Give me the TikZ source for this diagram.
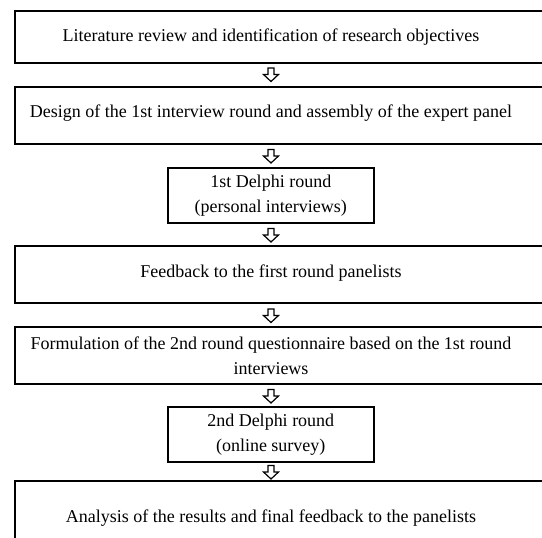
\documentclass[tikz,border=0pt]{standalone}
\usepackage{fontspec}
\setmainfont{Liberation Serif}
\usetikzlibrary{calc}

\tikzset{
  stage/.style={draw, line width=1.5pt, anchor=north west, inner sep=0pt},
  wide/.style={stage, minimum width=560pt},
  narrow/.style={stage, minimum width=206pt},
  txt/.style={font=\fontsize{18}{25}\selectfont, align=center, inner sep=0pt},
  downarr/.pic={\draw[line width=1.2pt, line join=miter]
    (-3,0) -- (3,0) -- (3,6.5) -- (7.5,6.5) -- (0,13.5) -- (-7.5,6.5) -- (-3,6.5) -- cycle;}
}

\begin{document}
\begin{tikzpicture}[x=1pt, y=-1pt]

\clip (0,0) rectangle (542,538);
\fill[white] (0,0) rectangle (542,538);

% the boxes
\node[wide, minimum height=52pt] (b1) at (14,10) {};
\node[wide, minimum height=57pt] (b2) at (14,86) {};
\node[narrow, minimum height=55pt] (b3) at (167,167) {};
\node[wide, minimum height=57pt] (b4) at (14,245) {};
\node[wide, minimum height=57pt] (b5) at (14,326) {};
\node[narrow, minimum height=55pt] (b6) at (167,406) {};
\node[wide, minimum height=80pt] (b7) at (14,480) {};

% the texts
\node[txt] (t1) at (271,37) {Literature review and identification of research objectives};
\node[txt] (t2) at (271,113) {Design of the 1st interview round and assembly of the expert panel};
\node[txt] (t3) at (b3.center) {1st Delphi round\\(personal interviews)};
\node[txt] (t4) at (271,273) {Feedback to the first round panelists};
\node[txt] (t5) at (271,356) {Formulation of the 2nd round questionnaire based on the 1st round\\interviews};
\node[txt] (t6) at (b6.center) {2nd Delphi round\\(online survey)};
\node[txt] (t7) at (271,518) {Analysis of the results and final feedback to the panelists};

% the arrows
\pic at ($(b1.south -| t1)+(0,4.5)$) {downarr};
\pic at ($(b2.south -| t1)+(0,5)$) {downarr};
\pic at ($(b3.south -| t1)+(0,5)$) {downarr};
\pic at ($(b4.south -| t1)+(0,5.5)$) {downarr};
\pic at ($(b5.south -| t1)+(0,5)$) {downarr};
\pic at ($(b6.south -| t1)+(0,3)$) {downarr};

\end{tikzpicture}
\end{document}
